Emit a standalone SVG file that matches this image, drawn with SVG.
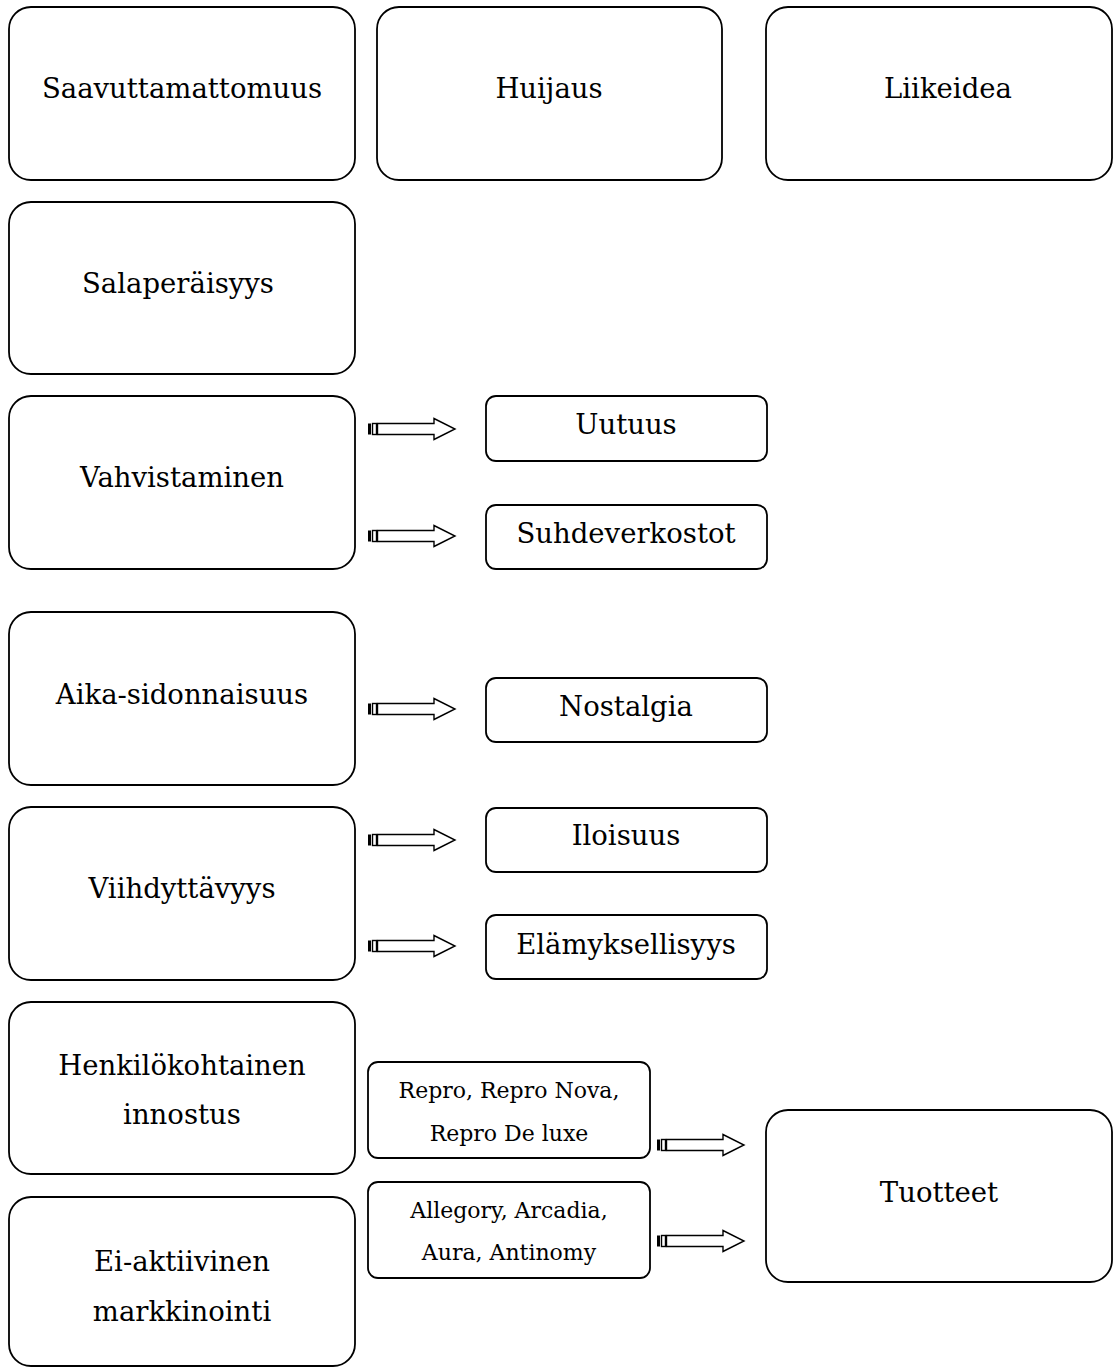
<svg xmlns="http://www.w3.org/2000/svg" width="1116" height="1367" viewBox="0 0 1116 1367">
<style>
.b{fill:#fff;stroke:#000;stroke-width:1.8}
.t{font-family:"DejaVu Serif","Liberation Serif",serif;font-size:27.5px;text-anchor:middle;fill:#000}
.s{font-family:"DejaVu Serif","Liberation Serif",serif;font-size:22px;text-anchor:middle;fill:#000}
.a{fill:#fff;stroke:#000;stroke-width:1.4}
.k{fill:#000}
</style>
<defs>
<g id="arr">
<rect class="k" x="0" y="-5.5" width="3" height="11"/>
<rect class="a" x="4.5" y="-5.5" width="4" height="11"/>
<path class="a" d="M9.5,-5.5 H66 V-10.5 L87,0 L66,10.5 V5.5 H9.5 Z"/>
</g>
</defs>
<rect width="1116" height="1367" fill="#fff"/>
<g id="n1"><rect class="b" x="9" y="7" width="346" height="173" rx="22"/><text class="t" x="182" y="98">Saavuttamattomuus</text></g>
<g id="n2"><rect class="b" x="377" y="7" width="345" height="173" rx="22"/><text class="t" x="549" y="98">Huijaus</text></g>
<g id="n3"><rect class="b" x="766" y="7" width="346" height="173" rx="22"/><text class="t" x="948" y="98">Liikeidea</text></g>
<g id="n4"><rect class="b" x="9" y="202" width="346" height="172" rx="22"/><text class="t" x="178" y="293">Salaperäisyys</text></g>
<g id="n5"><rect class="b" x="9" y="396" width="346" height="173" rx="22"/><text class="t" x="182" y="487">Vahvistaminen</text></g>
<g id="n6"><rect class="b" x="486" y="396" width="281" height="65" rx="10"/><text class="t" x="626" y="434">Uutuus</text></g>
<g id="n7"><rect class="b" x="486" y="505" width="281" height="64" rx="10"/><text class="t" x="626" y="543">Suhdeverkostot</text></g>
<g id="n8"><rect class="b" x="9" y="612" width="346" height="173" rx="22"/><text class="t" x="182" y="704">Aika-sidonnaisuus</text></g>
<g id="n9"><rect class="b" x="486" y="678" width="281" height="64" rx="10"/><text class="t" x="626" y="716">Nostalgia</text></g>
<g id="n10"><rect class="b" x="9" y="807" width="346" height="173" rx="22"/><text class="t" x="182" y="898">Viihdyttävyys</text></g>
<g id="n11"><rect class="b" x="486" y="808" width="281" height="64" rx="10"/><text class="t" x="626" y="845">Iloisuus</text></g>
<g id="n12"><rect class="b" x="486" y="915" width="281" height="64" rx="10"/><text class="t" x="626" y="954">Elämyksellisyys</text></g>
<g id="n13"><rect class="b" x="9" y="1002" width="346" height="172" rx="22"/><text class="t" x="182" y="1075">Henkilökohtainen</text><text class="t" x="182" y="1124">innostus</text></g>
<g id="n14"><rect class="b" x="9" y="1197" width="346" height="169" rx="22"/><text class="t" x="182" y="1271">Ei-aktiivinen</text><text class="t" x="182" y="1321">markkinointi</text></g>
<g id="n15"><rect class="b" x="368" y="1062" width="282" height="96" rx="10"/><text class="s" x="509" y="1098">Repro, Repro Nova,</text><text class="s" x="509" y="1141">Repro De luxe</text></g>
<g id="n16"><rect class="b" x="368" y="1182" width="282" height="96" rx="10"/><text class="s" x="509" y="1218">Allegory, Arcadia,</text><text class="s" x="509" y="1260">Aura, Antinomy</text></g>
<g id="n17"><rect class="b" x="766" y="1110" width="346" height="172" rx="22"/><text class="t" x="939" y="1202">Tuotteet</text></g>
<g id="connectors">
<use href="#arr" x="368" y="429"/>
<use href="#arr" x="368" y="536"/>
<use href="#arr" x="368" y="709"/>
<use href="#arr" x="368" y="840"/>
<use href="#arr" x="368" y="946"/>
<use href="#arr" x="657" y="1145"/>
<use href="#arr" x="657" y="1241"/>
</g>
</svg>
